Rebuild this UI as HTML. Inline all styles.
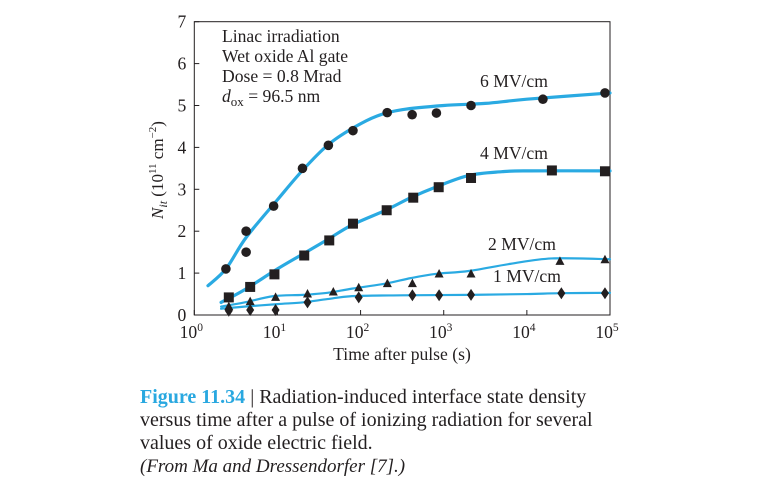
<!DOCTYPE html>
<html><head><meta charset="utf-8"><style>
body{margin:0;background:#fff;width:770px;height:488px;overflow:hidden}
svg{display:block}
text{font-family:"Liberation Serif",serif;fill:#231f20}
</style></head><body>
<svg id="chart" width="770" height="488">
<g id="axes"></g><g id="curves"></g><g id="marks"></g>
<g font-size="17.6">
<text x="222" y="42">Linac irradiation</text>
<text x="222" y="62">Wet oxide Al gate</text>
<text x="222" y="82">Dose = 0.8 Mrad</text>
<text x="222" y="102"><tspan font-style="italic">d</tspan><tspan font-size="13" dy="4">ox</tspan><tspan dy="-4"> = 96.5 nm</tspan></text>
</g>
<g font-size="17.6">
<text x="480" y="87">6 MV/cm</text>
<text x="480" y="159">4 MV/cm</text>
<text x="488" y="250">2 MV/cm</text>
<text x="493" y="282">1 MV/cm</text>
</g>
<text x="0" y="0" font-size="17" transform="translate(163,170) rotate(-90)" text-anchor="middle"><tspan font-style="italic">N</tspan><tspan font-style="italic" font-size="12" dy="4">it</tspan><tspan dy="-4"> (10</tspan><tspan font-size="11" dy="-7">11</tspan><tspan dy="7"> cm</tspan><tspan font-size="11" dy="-7">−2</tspan><tspan dy="7">)</tspan></text>
<text x="402" y="360" font-size="17.6" text-anchor="middle">Time after pulse (s)</text>
<g font-size="20">
<text x="140" y="403"><tspan font-weight="bold" style="fill:#29a8e0">Figure 11.34</tspan> | Radiation-induced interface state density</text>
<text x="140" y="426">versus time after a pulse of ionizing radiation for several</text>
<text x="140" y="449">values of oxide electric field.</text>
<text x="140" y="472" font-style="italic" font-size="19">(From Ma and Dressendorfer [7].)</text>
</g>
</svg>
<script>
const yTicks=[0,1,2,3,4,5,6,7];
const xTickExps=[0,1,2,3,4,5];
const t6=[2.4,4.2,4.2,9,20,41,81,209,417,817,2130,15600,87000];
const v6=[1.1,2.0,1.5,2.6,3.5,4.05,4.4,4.83,4.78,4.82,5.0,5.15,5.3];
const t4=[2.6,4.7,9.2,21,42,81,206,430,870,2130,20000,87000];
const v4=[0.42,0.67,0.97,1.42,1.78,2.18,2.5,2.8,3.05,3.27,3.45,3.43];
const t2=[2.6,4.7,9.5,23,47,95,210,420,880,2130,25000,87000];
const v2=[0.2,0.32,0.42,0.5,0.55,0.65,0.75,0.75,0.98,0.98,1.28,1.32];
const t1=[2.6,4.7,9.5,23,95,420,880,2130,26000,87000];
const v1=[0.1,0.12,0.12,0.3,0.42,0.47,0.47,0.48,0.52,0.52];
const c6t=[1.46,2.4,4.2,10,20,40,79,158,316,1000,3162,10000,100000];
const c6v=[0.7,1.1,1.85,2.75,3.45,4.05,4.45,4.75,4.9,5.0,5.05,5.15,5.3];
const c4t=[2.1,4,10,20,40,79,200,400,794,2000,5000,10000,100000];
const c4v=[0.3,0.6,1.1,1.45,1.8,2.15,2.5,2.8,3.05,3.33,3.42,3.44,3.44];
const c2t=[2.1,4,9,20,40,79,200,400,794,2000,6300,20000,100000];
const c2v=[0.2,0.3,0.45,0.48,0.53,0.63,0.75,0.88,0.98,1.05,1.22,1.35,1.33];
const c1t=[2.1,4,10,20,40,79,316,2000,10000,25000,100000];
const c1v=[0.15,0.2,0.26,0.3,0.38,0.45,0.47,0.48,0.5,0.52,0.53];
const X0=194.3,X1=610,Y0=315,Y1=21.7;
const xs=t=>X0+(Math.log10(t)/5)*(X1-X0);
const ys=v=>Y0-(v/7)*(Y0-Y1);
const NS='http://www.w3.org/2000/svg';
function mk(tag,attrs,parent){const e=document.createElementNS(NS,tag);for(const k in attrs)e.setAttribute(k,attrs[k]);parent.appendChild(e);return e;}
const axes=document.getElementById('axes');
const frame=mk('rect',{x:X0,y:Y1,width:X1-X0,height:Y0-Y1,fill:'none',stroke:'#231f20','stroke-width':1},axes);


yTicks.forEach(v=>{
 const l=mk('line',{x1:X0,x2:X0+5,y1:ys(v),y2:ys(v),stroke:'#231f20'},axes);
 
 
 const t=mk('text',{x:X0-8,y:ys(v)+6,'font-size':17.6,'text-anchor':'end'},axes);t.textContent=v;
 
 
});
xTickExps.forEach(e=>{
 const x=xs(Math.pow(10,e));
 const l=mk('line',{x1:x,x2:x,y1:Y0,y2:Y0-5,stroke:'#231f20'},axes);
 
 
 const t=mk('text',{x:x-3,y:Y0+23,'font-size':17.6,'text-anchor':'middle'},axes);
 t.innerHTML='10<tspan font-size="11.5" dy="-7">'+e+'</tspan>';
 
 
});
const curves=document.getElementById('curves');
function curve(ts,vs,w,name){
 const p=ts.map((t,i)=>[xs(t),ys(vs[i])]);
 let d='M'+p[0][0]+','+p[0][1];
 for(let i=0;i<p.length-1;i++){
  const a=p[Math.max(0,i-1)],b=p[i],c=p[i+1],e=p[Math.min(p.length-1,i+2)];
  d+=' C'+(b[0]+(c[0]-a[0])/6)+','+(b[1]+(c[1]-a[1])/6)+' '+(c[0]-(e[0]-b[0])/6)+','+(c[1]-(e[1]-b[1])/6)+' '+c[0]+','+c[1];
 }
 const el=mk('path',{d:d,fill:'none',stroke:'#2aaae2','stroke-width':w,'stroke-linecap':'round'},curves);
 
 
}
curve(c6t,c6v,3.2,'fit-6mv');curve(c4t,c4v,3.2,'fit-4mv');curve(c2t,c2v,2.2,'fit-2mv');curve(c1t,c1v,2.2,'fit-1mv');
const marks=document.getElementById('marks');
t6.forEach((t,i)=>{const e=mk('circle',{cx:xs(t),cy:ys(v6[i]),r:4.8,fill:'#231f20'},marks);
 
 });
t4.forEach((t,i)=>{const x=xs(t),y=ys(v4[i]);const e=mk('rect',{x:x-5,y:y-5,width:10,height:10,fill:'#231f20'},marks);
 
 });
t2.forEach((t,i)=>{const x=xs(t),y=ys(v2[i]);const e=mk('polygon',{points:(x-4.5)+','+(y+3.5)+' '+(x+4.5)+','+(y+3.5)+' '+x+','+(y-5),fill:'#231f20'},marks);
 
 });
t1.forEach((t,i)=>{const x=xs(t),y=ys(v1[i]);const e=mk('polygon',{points:x+','+(y-6)+' '+(x+4)+','+y+' '+x+','+(y+6)+' '+(x-4)+','+y,fill:'#231f20'},marks);
 
 });
</script>
</body></html>
